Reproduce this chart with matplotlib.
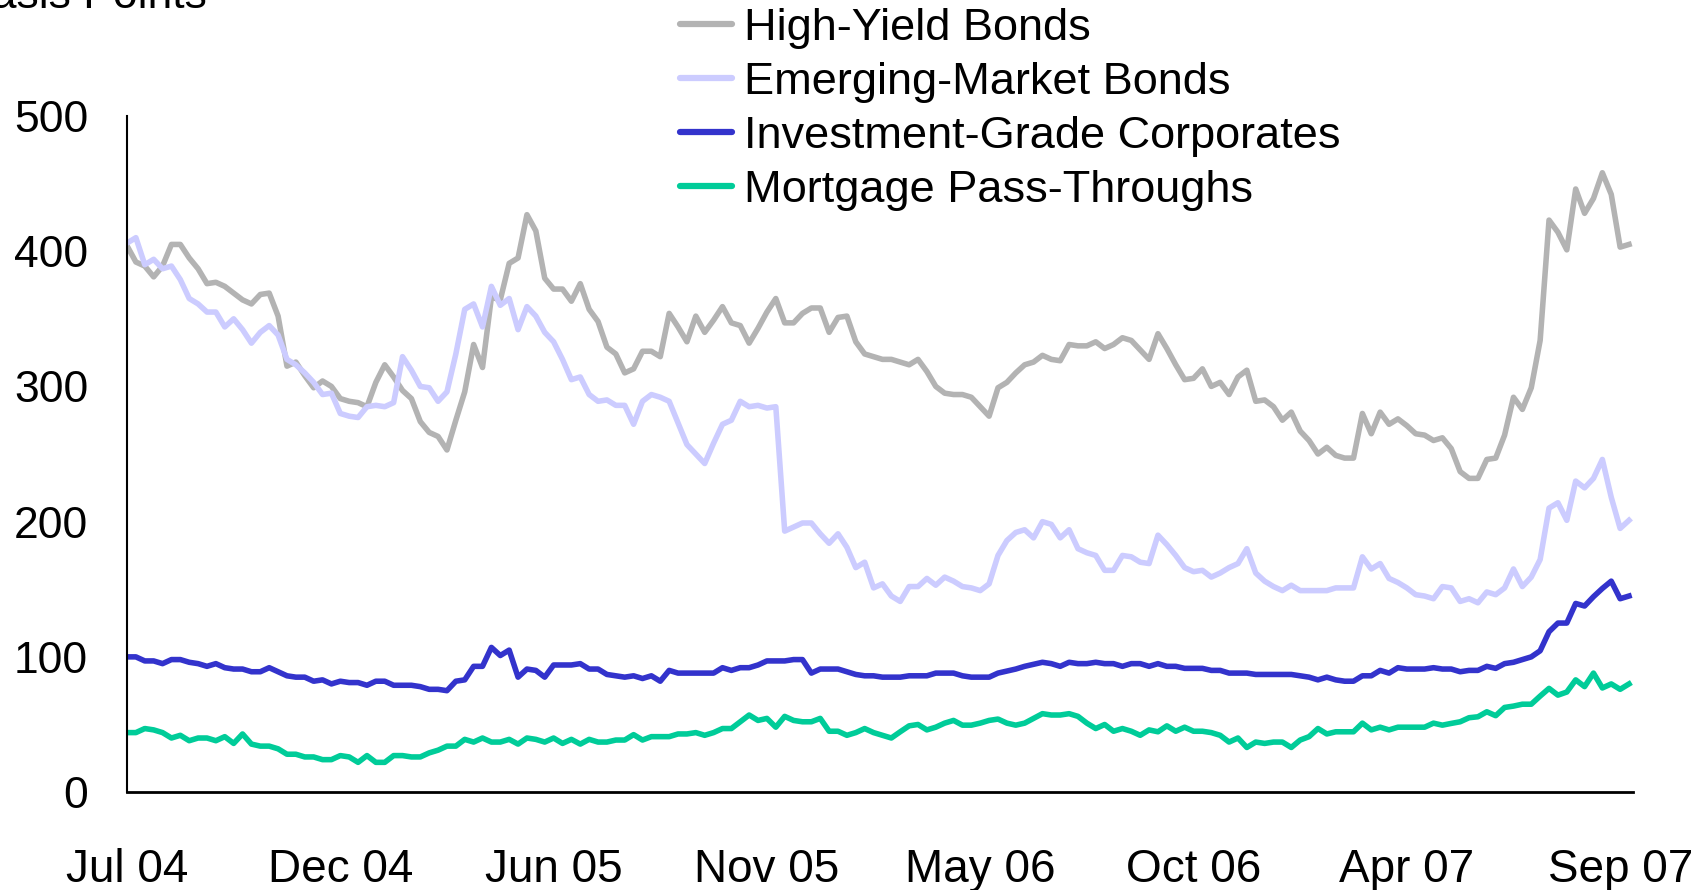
import matplotlib
matplotlib.use("Agg")
import matplotlib.pyplot as plt
import numpy as np

plt.rcParams['font.family'] = ['Liberation Sans', 'DejaVu Sans']

# weekly spreads in basis points, Jul 2004 - Sep 2007
high_yield = [
    404, 392, 389, 381, 389, 405, 405, 395, 387, 376,
    377, 374, 369, 364, 361, 368, 369, 352, 315, 318,
    308, 299, 304, 300, 291, 289, 288, 285, 303, 316,
    307, 297, 291, 274, 266, 263, 253, 275, 296, 331,
    314, 366, 364, 391, 395, 427, 415, 380, 372, 372,
    363, 376, 357, 348, 329, 324, 310, 313, 326, 326,
    322, 354, 344, 333, 352, 340, 349, 359, 347, 345,
    332, 343, 355, 365, 347, 347, 354, 358, 358, 340,
    351, 352, 333, 324, 322, 320, 320, 318, 316, 320,
    311, 300, 295, 294, 294, 292, 285, 278, 299, 303,
    310, 316, 318, 323, 320, 319, 331, 330, 330, 333,
    328, 331, 336, 334, 327, 320, 339, 328, 316, 305,
    306, 313, 300, 303, 294, 307, 312, 289, 290, 285,
    275, 281, 267, 260, 250, 255, 249, 247, 247, 280,
    265, 281, 272, 276, 271, 265, 264, 260, 262, 254,
    237, 232, 232, 246, 247, 264, 292, 283, 299, 334,
    423, 414, 401, 446, 428, 439, 458, 442, 403, 405,
]

emerging = [
    406, 410, 390, 394, 387, 389, 379, 365, 361, 355,
    355, 344, 350, 342, 332, 340, 345, 338, 320, 316,
    310, 303, 294, 295, 280, 278, 277, 285, 286, 285,
    288, 322, 312, 300, 299, 289, 296, 324, 357, 361,
    344, 374, 360, 365, 342, 359, 352, 340, 333, 320,
    305, 307, 294, 289, 290, 286, 286, 272, 289, 294,
    292, 289, 273, 257, 250, 243, 258, 272, 275, 289,
    285, 286, 284, 285, 193, 196, 199, 199, 191, 184,
    191, 181, 166, 170, 151, 154, 145, 141, 152, 152,
    158, 153, 159, 156, 152, 151, 149, 154, 175, 186,
    192, 194, 188, 200, 198, 188, 194, 180, 177, 175,
    164, 164, 175, 174, 170, 169, 190, 183, 175, 166,
    163, 164, 159, 162, 166, 169, 180, 162, 156, 152,
    149, 153, 149, 149, 149, 149, 151, 151, 151, 174,
    165, 169, 158, 155, 151, 146, 145, 143, 152, 151,
    141, 143, 140, 148, 146, 151, 165, 152, 159, 172,
    210, 214, 201, 230, 225, 232, 246, 218, 195, 201,
]

inv_grade = [
    100, 100, 97, 97, 95, 98, 98, 96, 95, 93,
    95, 92, 91, 91, 89, 89, 92, 89, 86, 85,
    85, 82, 83, 80, 82, 81, 81, 79, 82, 82,
    79, 79, 79, 78, 76, 76, 75, 82, 83, 93,
    93, 107, 101, 105, 85, 91, 90, 85, 94, 94,
    94, 95, 91, 91, 87, 86, 85, 86, 84, 86,
    82, 90, 88, 88, 88, 88, 88, 92, 90, 92,
    92, 94, 97, 97, 97, 98, 98, 88, 91, 91,
    91, 89, 87, 86, 86, 85, 85, 85, 86, 86,
    86, 88, 88, 88, 86, 85, 85, 85, 88, 89.5,
    91, 93, 94.5, 96, 95, 93, 96, 95, 95, 96,
    95, 95, 93, 95, 95, 93, 95, 93, 93, 91.5,
    91.5, 91.5, 90, 90, 88, 88, 88, 87, 87, 87,
    87, 87, 86, 85, 83, 85, 83, 82, 82, 86,
    86, 90, 88, 92, 91, 91, 91, 92, 91, 91,
    89, 90, 90, 93, 91.5, 95, 96, 98, 100, 104.5,
    118.6, 125, 125, 139.5, 137.6, 144.5, 150.6, 156, 143, 145,
]

mortgage = [
    44, 44, 47, 46, 44, 40, 42, 38, 40, 40,
    38, 41, 36, 43, 35.5, 34, 34, 32, 28, 28,
    26, 26, 24, 24, 27, 26, 22, 27, 22, 22,
    27, 27, 26, 26, 29, 31, 34, 34, 39, 37,
    40, 37, 37, 39, 35.5, 40, 39, 37, 40, 36,
    39, 35.5, 39, 37, 37, 38.5, 38.5, 42.5, 38.5, 41,
    41, 41, 43, 43, 44, 42, 44, 47, 47, 52,
    57, 53, 54.5, 48, 56, 53, 52, 52, 54.5, 45,
    45, 42, 44, 47, 44, 42, 40, 44.6, 49, 50,
    46, 48, 51, 53, 49.5, 49.5, 51, 53, 54, 51,
    49.5, 51, 54.5, 58, 57, 57, 58, 56, 51, 47,
    50, 45, 47, 45, 42, 46, 44.6, 49, 45, 48,
    45, 45, 44, 42, 37, 40, 33, 37, 36, 37,
    37, 33, 38.5, 41, 47, 43, 44.6, 44.6, 44.6, 51,
    46, 48, 46, 48, 48, 48, 48, 51, 49.5, 50.8,
    52, 55, 55.7, 59.4, 56.5, 62.6, 63.6, 65, 65, 71,
    76.7, 71.7, 74, 83, 78, 88, 77, 80, 76, 80,
]

tick_labels = ["Jul 04", "Dec 04", "Jun 05", "Nov 05", "May 06", "Oct 06", "Apr 07", "Sep 07"]
tick_every = 24  # weeks between labels

weeks = np.arange(len(high_yield))

fig = plt.figure(figsize=(17.07, 8.90), dpi=100)
ax = fig.add_axes([0.0744, 0.110, 0.882, 0.7597])

lw = 4.0
ax.plot(weeks, high_yield, color="#B3B3B3", lw=lw, solid_joinstyle="round", label="High-Yield Bonds")
ax.plot(weeks, emerging, color="#CCCCFF", lw=lw, solid_joinstyle="round", label="Emerging-Market Bonds")
ax.plot(weeks, inv_grade, color="#3333CC", lw=lw, solid_joinstyle="round", label="Investment-Grade Corporates")
ax.plot(weeks, mortgage, color="#00CC99", lw=lw, solid_joinstyle="round", label="Mortgage Pass-Throughs")

ax.set_xlim(0, len(weeks) - 0.6)
ax.set_ylim(0, 500)
ax.set_yticks([0, 100, 200, 300, 400, 500])
ax.set_xticks(np.arange(len(tick_labels)) * tick_every)
ax.set_xticklabels(tick_labels, fontsize=33)

for s in ["top", "right"]:
    ax.spines[s].set_visible(False)
ax.spines["left"].set_linewidth(1.5)
ax.spines["bottom"].set_linewidth(2.0)
ax.tick_params(axis="both", length=0)
ax.tick_params(axis="y", pad=28, labelsize=32)
ax.tick_params(axis="x", pad=40)

fig.text(207 / 1707, 1 - 8 / 890, "Basis Points", fontsize=32, ha="right", va="baseline")

leg = ax.legend(loc="upper left", bbox_to_anchor=(680 / 1707, 1 - 8 / 890), bbox_transform=fig.transFigure,
                frameon=False, fontsize=32.5, handlelength=1.15, handletextpad=0.27,
                labelspacing=0.29, borderpad=0, borderaxespad=0)
for h in leg.get_lines():
    h.set_linewidth(4.5)
    h.set_solid_capstyle("round")

fig.savefig("out.png", dpi=100)
